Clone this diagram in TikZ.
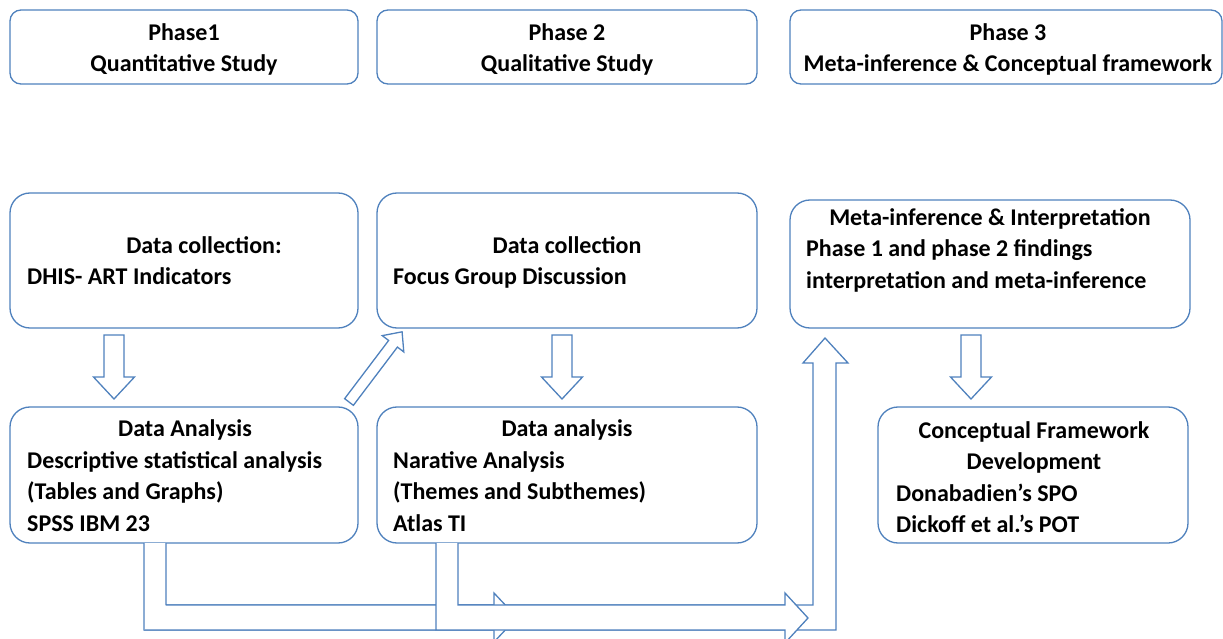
\documentclass[tikz,border=0pt]{standalone}
\usepackage{fontspec}
\setmainfont{Carlito}
\usepackage{tikz}

\definecolor{boxblue}{RGB}{79,129,189}

\tikzset{
	phasebox/.style={draw=boxblue, line width=1.3bp, rounded corners=11bp, inner sep=0pt},
	stagebox/.style={draw=boxblue, line width=1.3bp, rounded corners=20bp, inner sep=0pt},
	txt/.style={inner sep=0pt, align=left, font=\fontsize{24bp}{31.5bp}\selectfont\bfseries},
	hollow/.style={draw=boxblue, fill=white, line width=1.3bp, line join=miter}
}

\begin{document}
\begin{tikzpicture}[x=1bp, y=-1bp]

	\useasboundingbox (0,0) rectangle (1223,639);

	\node[phasebox, minimum width=348bp, minimum height=74bp] (ph1) at (184,47) {};
	\node[phasebox, minimum width=380bp, minimum height=74bp] (ph2) at (567,47) {};
	\node[phasebox, minimum width=432bp, minimum height=74bp] (ph3) at (1006,47) {};

	\node[stagebox, minimum width=348bp, minimum height=135bp] (col1) at (184,260.5) {};
	\node[stagebox, minimum width=380bp, minimum height=135bp] (col2) at (567,260.5) {};
	\node[stagebox, minimum width=400bp, minimum height=128bp] (meta) at (990,264) {};
	\node[stagebox, minimum width=348bp, minimum height=136bp] (ana1) at (184,475) {};
	\node[stagebox, minimum width=380bp, minimum height=136bp] (ana2) at (567,475) {};
	\node[stagebox, minimum width=310bp, minimum height=136bp] (frame) at (1033,475) {};

	\node[txt, anchor=base, align=center] (ph1t) at (184,72) {Phase1\\Quantitative Study};
	\node[txt, anchor=base, align=center] (ph2t) at (567,72) {Phase 2\\Qualitative Study};
	\node[txt, anchor=base, align=center] (ph3t) at (1008,72) {Phase 3\\Meta-inference \& Conceptual framework};

	\node[txt, anchor=base] (col1t) at (204,254) {Data collection:};
	\node[txt, anchor=base west] (col1b) at (27,285) {DHIS- ART Indicators};
	\node[txt, anchor=base] (col2t) at (567,254) {Data collection};
	\node[txt, anchor=base west] (col2b) at (393,285) {Focus Group Discussion};
	\node[txt, anchor=base] (metat) at (990,226) {Meta-inference \& Interpretation};
	\node[txt, anchor=base west] (metab) at (806,288.5) {Phase 1 and phase 2 findings\\interpretation and meta-inference};
	\node[txt, anchor=base] (ana1t) at (185,436) {Data Analysis};
	\node[txt, anchor=base west] (ana1b) at (27,531) {Descriptive statistical analysis\\(Tables and Graphs)\\SPSS IBM 23};
	\node[txt, anchor=base] (ana2t) at (567,436) {Data analysis};
	\node[txt, anchor=base west] (ana2b) at (393,531) {Narative Analysis\\(Themes and Subthemes)\\Atlas TI};
	\node[txt, anchor=base, align=center] (framet) at (1034,469.5) {Conceptual Framework\\Development};
	\node[txt, anchor=base west] (frameb) at (896,532.5) {Donabadien’s SPO\\Dickoff et al.’s POT};

	\foreach \x in {114,562,971}
		\draw[hollow] (\x-10,335) -- (\x+10,335) -- (\x+10,377) -- (\x+20.5,377) -- (\x,399) -- (\x-20.5,377) -- (\x-10,377) -- cycle;

	\begin{scope}[shift={(349,402)}, rotate=52.9]
		\draw[hollow] (0,-5.5) -- (73,-5.5) -- (73,-13.5) -- (88,0) -- (73,13.5) -- (73,5.5) -- (0,5.5) -- cycle;
	\end{scope}

	\draw[hollow] (144,543) -- (144,630) -- (836,630) -- (836,363) -- (848,363) -- (825,338) -- (803,363) -- (813,363) -- (813,605) -- (166,605) -- (166,543);
	\draw[hollow] (144,630) -- (494,630) -- (494,642) -- (517,617.5) -- (494,593) -- (494,605) -- (166,605);
	\draw[hollow] (436,543) -- (436,630) -- (785,630) -- (785,643) -- (808,618) -- (785,593) -- (785,605) -- (458,605) -- (458,543);

\end{tikzpicture}
\end{document}
